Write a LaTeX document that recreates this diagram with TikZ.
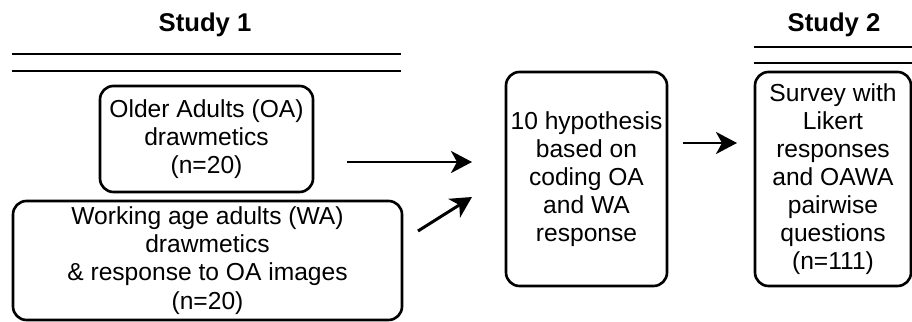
\documentclass[tikz,border=0pt]{standalone}
\usepackage{fontspec}
\setmainfont{Liberation Sans}
\usetikzlibrary{arrows.meta, positioning}

\begin{document}
\begin{tikzpicture}[
    every node/.style={font=\fontsize{14}{16}\selectfont},
]

% ---------------------------------------------------------------- styles
\tikzset{
    stage/.style={
        rectangle, rounded corners=0.27cm, draw=black, line width=1.5pt,
        align=center, inner sep=1pt,
        execute at begin node={\rule{0pt}{15pt}},
    },
    heading/.style={
        font=\fontsize{14.6}{16}\selectfont\bfseries, anchor=base,
    },
    rule/.style={line width=1.5pt, draw=black},
    flow/.style={
        -{Stealth[length=0.42cm, width=0.44cm, inset=0.12cm]},
        line width=1.7pt, black,
    },
}

\useasboundingbox (0,0) rectangle (18.24,6.44);

% ================================================================
% GEOMETRY
%   study 1 column   x in [0.24, 8.0]
%   hypotheses       x in [10.1, 13.34]
%   study 2 column   x in [15.1, 18.22]
% ================================================================

% ---------------------------------------------------------------- study 1
\node[heading] (title1) at (4.1, 5.8) {Study 1};
\draw[rule] (0.24, 5.36) -- (8.02, 5.36);
\draw[rule] (0.24, 5.02) -- (8.02, 5.02);

\node[stage, minimum width=4.26cm, minimum height=2.12cm] (oa)
    at (4.13, 3.66) {Older Adults (OA)\\drawmetics\\(n=20)};
\node[stage, minimum width=7.78cm, minimum height=2.38cm] (wa)
    at (4.15, 1.23)
    {Working age adults (WA)\\drawmetics\\\& response to OA images\\(n=20)};

% ---------------------------------------------------------------- hypotheses
\node[stage, minimum width=3.22cm, minimum height=4.28cm] (hyp)
    at (11.73, 2.86)
    {10 hypothesis\\based on\\coding OA\\and WA\\response};

% ---------------------------------------------------------------- study 2
\node[heading] (title2) at (16.68, 5.8) {Study 2};
\draw[rule] (15.08, 5.5) -- (18.24, 5.5);
\draw[rule] (15.08, 5.18) -- (18.24, 5.18);

\node[stage, minimum width=3.12cm, minimum height=4.28cm] (survey)
    at (16.66, 2.86)
    {Survey with\\Likert\\responses\\and OAWA\\pairwise\\questions\\(n=111)};

% ---------------------------------------------------------------- arrows
\coordinate (oaout)  at (6.94, 3.2);
\coordinate (oain)   at (9.44, 3.2);
\coordinate (waout)  at (8.36, 1.82);
\coordinate (wain)   at (9.44, 2.5);
\coordinate (hypout) at (13.66, 3.58);
\coordinate (hypin)  at (14.74, 3.58);

\foreach \i/\j in {oaout/oain, waout/wain, hypout/hypin} {
    \draw[flow] (\i) -- (\j);
}

\end{tikzpicture}
\end{document}
